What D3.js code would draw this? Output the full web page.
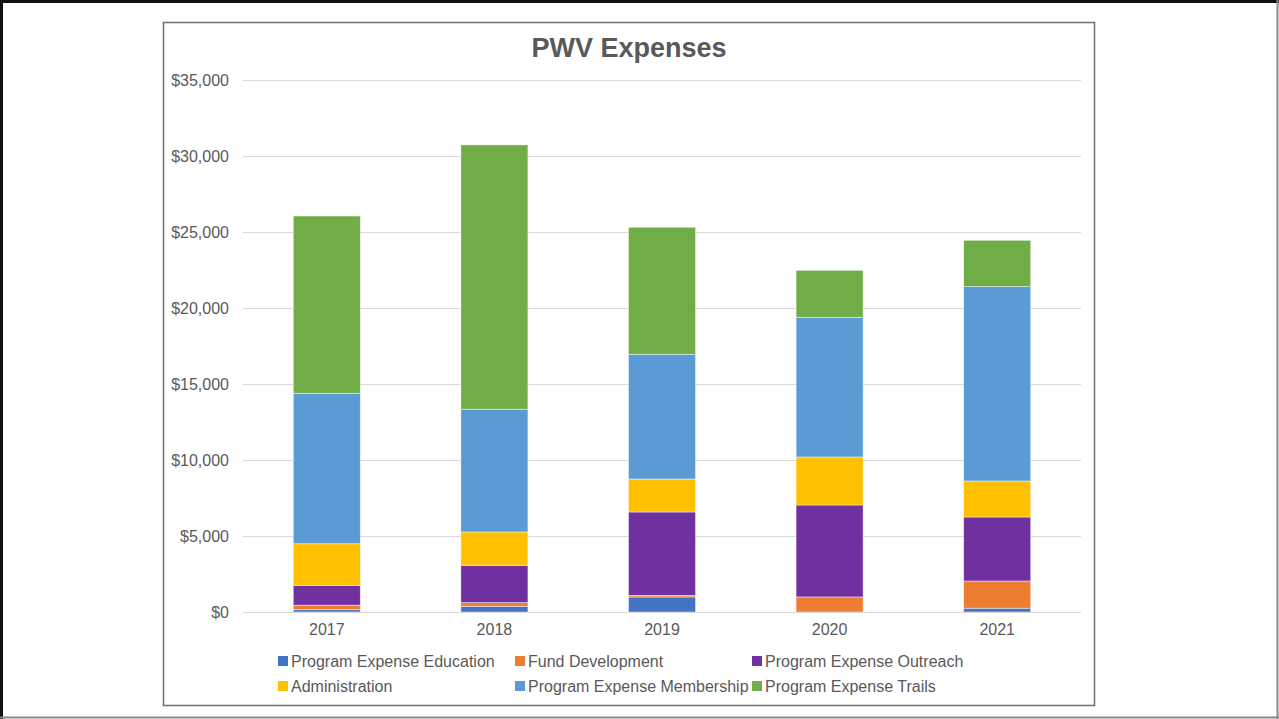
<!DOCTYPE html>
<html>
<head>
<meta charset="utf-8">
<script src="https://cdn.jsdelivr.net/npm/d3@7"></script>
<style>
  body { margin: 0; background: #fff; }
  svg text { font-family: "Liberation Sans", Arial, sans-serif; }
</style>
</head>
<body>
<svg id="chart" width="1279" height="719"></svg>
<script>
// years on the x axis
var years = ["2017", "2018", "2019", "2020", "2021"];

// series, bottom to top of each stack
var seriesNames = ["Program Expense Education", "Fund Development", "Program Expense Outreach",
  "Administration", "Program Expense Membership", "Program Expense Trails"];
var seriesColors = ["#4472C4", "#ED7D31", "#7030A0", "#FFC000", "#5B9BD5", "#70AD47"];

var education  = [150, 375, 990, 0, 250];
var fundDev    = [300, 240, 100, 990, 1790];
var outreach   = [1300, 2455, 5490, 6050, 4210];
var admin      = [2740, 2195, 2170, 3160, 2370];
var membership = [9900, 8075, 8205, 9190, 12785];
var trails     = [11660, 17390, 8355, 3090, 3050];

var yTicks = [0, 5000, 10000, 15000, 20000, 25000, 30000, 35000];

var allSeries = [education, fundDev, outreach, admin, membership, trails];

// build rows for d3.stack
var rows = years.map(function (y, i) {
  var r = { year: y };
  seriesNames.forEach(function (s, j) { r[s] = allSeries[j][i]; });
  return r;
});

var svg = d3.select("#chart");

// outer slide frame
svg.append("line").attr("x1", 0).attr("y1", 1.5).attr("x2", 1279).attr("y2", 1.5)
  .attr("stroke", "#111").attr("stroke-width", 3);
svg.append("line").attr("x1", 1.5).attr("y1", 0).attr("x2", 1.5).attr("y2", 719)
  .attr("stroke", "#111").attr("stroke-width", 3);
svg.append("line").attr("x1", 1277.5).attr("y1", 0).attr("x2", 1277.5).attr("y2", 719)
  .attr("stroke", "#888").attr("stroke-width", 2);
svg.append("line").attr("x1", 0).attr("y1", 717.5).attr("x2", 1279).attr("y2", 717.5)
  .attr("stroke", "#888").attr("stroke-width", 2);

// chart frame
svg.append("rect")
  .attr("x", 163.5).attr("y", 22.5).attr("width", 931).attr("height", 683)
  .attr("fill", "#fff").attr("stroke", "#6f6f6f").attr("stroke-width", 1.5);

var plot = { left: 243, right: 1081, top: 80, bottom: 612 };

var x = d3.scaleBand()
  .domain(years)
  .range([plot.left, plot.right])
  .paddingInner(0.6)
  .paddingOuter(0.3);

var y = d3.scaleLinear()
  .domain([0, 35000])
  .range([plot.bottom, plot.top]);

// gridlines
svg.append("g")
  .selectAll("line")
  .data(yTicks)
  .enter()
  .append("line")
  .attr("x1", plot.left)
  .attr("x2", plot.right)
  .attr("y1", d => Math.round(y(d)) + 0.5)
  .attr("y2", d => Math.round(y(d)) + 0.5)
  .attr("stroke", "#d9d9d9")
  .attr("stroke-width", 1);

// y axis labels
var yAxis = d3.axisLeft(y)
  .tickValues(yTicks)
  .tickSize(0)
  .tickPadding(14)
  .tickFormat(d => "$" + d3.format(",")(d));

svg.append("g")
  .attr("transform", `translate(${plot.left},0)`)
  .call(yAxis)
  .call(g => g.select(".domain").remove())
  .selectAll("text")
  .attr("font-size", 16)
  .attr("fill", "#595959");

// stacked bars
var stack = d3.stack().keys(seriesNames);
var stacked = stack(rows);

svg.append("g")
  .selectAll("g")
  .data(stacked)
  .enter()
  .append("g")
  .attr("fill", (d, i) => seriesColors[i])
  .selectAll("rect")
  .data(d => d)
  .enter()
  .append("rect")
  .attr("x", d => x(d.data.year))
  .attr("width", x.bandwidth())
  .attr("y", d => y(d[1]))
  .attr("height", d => Math.max(0, y(d[0]) - y(d[1])))
  .attr("stroke", "#fff")
  .attr("stroke-opacity", 0.6)
  .attr("stroke-width", 0.75);

// x axis line and labels
svg.append("line")
  .attr("x1", plot.left).attr("x2", plot.right)
  .attr("y1", plot.bottom + 0.5).attr("y2", plot.bottom + 0.5)
  .attr("stroke", "#d9d9d9");

var xAxis = d3.axisBottom(x).tickSize(0).tickPadding(12);
svg.append("g")
  .attr("transform", `translate(0,${plot.bottom})`)
  .call(xAxis)
  .call(g => g.select(".domain").remove())
  .selectAll("text")
  .attr("font-size", 16)
  .attr("fill", "#595959");

// title
svg.append("text")
  .attr("x", 629)
  .attr("y", 57)
  .attr("text-anchor", "middle")
  .attr("font-size", 27)
  .attr("font-weight", "bold")
  .attr("fill", "#595959")
  .text("PWV Expenses");

// legend, three columns by two rows
var legendCols = [278, 515, 752];
var legendRows = [661, 686];
var legend = svg.append("g")
  .selectAll("g")
  .data(seriesNames)
  .enter()
  .append("g")
  .attr("transform", (d, i) => `translate(${legendCols[i % 3]},${legendRows[Math.floor(i / 3)]})`);

legend.append("rect")
  .attr("x", 0).attr("y", -5)
  .attr("width", 10).attr("height", 10)
  .attr("fill", (d, i) => seriesColors[i]);

legend.append("text")
  .attr("x", 13)
  .attr("y", 6)
  .attr("font-size", 16)
  .attr("fill", "#595959")
  .text(d => d);
</script>
</body>
</html>
